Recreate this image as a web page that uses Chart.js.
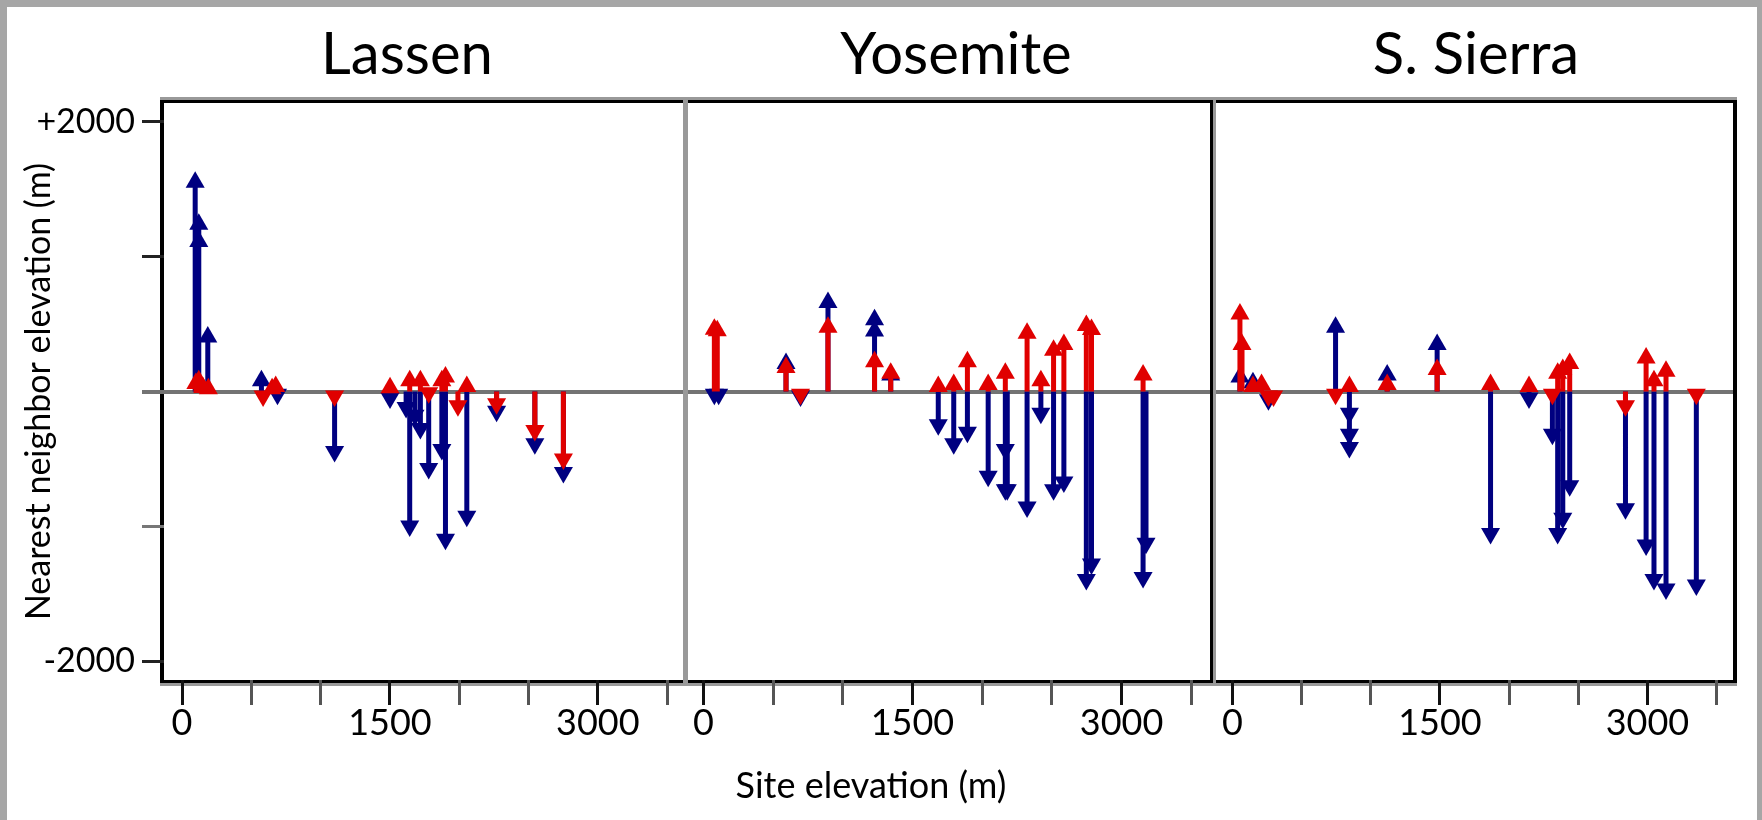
<!DOCTYPE html>
<html>
<head>
<meta charset="utf-8">
<title>Nearest neighbor elevation</title>
<script src="https://cdn.jsdelivr.net/npm/chart.js@4.4.1/dist/chart.umd.min.js"></script>
<style>
  body { margin: 0; background: #fff; }
  #page { position: relative; width: 1762px; height: 820px; overflow: hidden; background: #fff; font-family: Lato, sans-serif; }
  #page canvas { position: absolute; top: 0; }
  #edge { position: absolute; left: 0; top: 0; right: 0; bottom: 0; border-top: 7px solid #a6a6a6; border-left: 7px solid #a6a6a6; border-right: 5px solid #a6a6a6; pointer-events: none; }
  #xtitle { position: absolute; left: 871px; top: 766px; transform: translateX(-50%); font-size: 36px; line-height: 36px; color: #000; white-space: nowrap; }
</style>
</head>
<body>
<div id="page">
  <canvas id="canvas0" width="814" height="820" style="left:0px"></canvas>
  <canvas id="canvas1" width="572" height="820" style="left:670px"></canvas>
  <canvas id="canvas2" width="560" height="820" style="left:1196px"></canvas>
  <div id="xtitle">Site elevation (m)</div>
  <div id="edge"></div>
</div>
<script>
// site elevation (m) and elevation of nearest neighbor relative to the site (m)
var lassenBlueX = [95, 121, 121, 186, 573, 689, 1101, 1501, 1617, 1643, 1681, 1720, 1780, 1875, 1901, 2055, 2270, 2546, 2752];
var lassenBlueY = [1552, 1241, 1113, 405, 80, -20, -445, -48, -119, -997, -176, -275, -572, -430, -1096, -926, -147, -388, -600];
var lassenRedX = [100, 121, 150, 190, 585, 650, 676, 1101, 1501, 1643, 1720, 1780, 1875, 1901, 1991, 2055, 2270, 2546, 2752];
var lassenRedY = [60, 80, 30, 20, -34, 20, 37, -34, 28, 80, 80, -10, 80, 108, -105, 37, -91, -289, -501];

var yosemiteBlueX = [79, 110, 593, 697, 894, 1228, 1228, 1344, 1685, 1796, 1894, 2043, 2166, 2166, 2180, 2322, 2421, 2512, 2586, 2747, 2784, 3154, 3175];
var yosemiteBlueY = [-20, -20, 207, -34, 660, 533, 448, 122, -246, -388, -303, -629, -430, -728, -728, -856, -161, -728, -671, -1394, -1280, -1380, -1125];
var yosemiteRedX = [79, 100, 593, 697, 894, 1228, 1344, 1685, 1796, 1894, 2043, 2166, 2322, 2421, 2512, 2586, 2747, 2784, 3154];
var yosemiteRedY = [462, 450, 178, -20, 476, 221, 136, 37, 51, 221, 51, 136, 433, 79, 306, 348, 490, 460, 122];

var sierraBlueX = [55, 149, 261, 746, 846, 846, 846, 1119, 1480, 1866, 2144, 2313, 2351, 2388, 2438, 2841, 2990, 3047, 3134, 3353];
var sierraBlueY = [108, 65, -62, 476, -161, -317, -416, 122, 348, -1054, -48, -317, -1054, -940, -700, -870, -1139, -1394, -1465, -1436];
var sierraRedX = [55, 70, 149, 211, 261, 298, 746, 846, 1119, 1480, 1866, 2144, 2313, 2351, 2388, 2438, 2841, 2990, 3047, 3134, 3353];
var sierraRedY = [575, 348, 37, 51, -34, -34, -20, 37, 51, 164, 51, 37, -20, 136, 164, 207, -105, 249, 79, 150, -20];

var panelTitles = ['Lassen', 'Yosemite', 'S. Sierra'];
var xTicks = [0, 500, 1000, 1500, 2000, 2500, 3000, 3500];
var xLabels = [0, 1500, 3000];
var yTicks = [-2000, -1000, 0, 1000, 2000];
var yLabels = {'2000': '+2000', '-2000': '-2000'};

var BLUE = '#000080';
var RED = '#e00000';

Chart.defaults.font.family = 'Lato, sans-serif';
Chart.defaults.color = '#000';

function heads(xs, ys) {
  var out = [];
  xs.forEach((x, i) => { out.push({x: x, y: ys[i]}); });
  return out;
}

// each arrow shaft runs from 0 to the value, nulls break the line between arrows
function shafts(xs, ys) {
  var out = [];
  xs.forEach((x, i) => {
    out.push({x: x, y: 0});
    out.push({x: x, y: ys[i]});
    out.push({x: x, y: null});
  });
  return out;
}

// box round the plot area, with the grey shadow lines of the original
var frame = {
  id: 'frame',
  beforeDraw: function(chart, args, o) {
    var a = chart.chartArea, ctx = chart.ctx;
    var l = a.left - (o.left ? o.left[1] : 0);
    var r = a.right + (o.right ? o.right[1] : 0);
    ctx.save();
    ctx.fillStyle = '#999';
    ctx.fillRect(l, a.top - 6, r - l, 3);
    ctx.fillRect(l, a.bottom + 3, r - l, 3);
    ctx.fillStyle = '#000';
    ctx.fillRect(l, a.top - 3, r - l, 3);
    ctx.fillRect(l, a.bottom, r - l, 3);
    if (o.left) { ctx.fillStyle = o.left[0]; ctx.fillRect(a.left - o.left[1], a.top - 3, o.left[1], a.bottom - a.top + 6); }
    if (o.right) { ctx.fillStyle = o.right[0]; ctx.fillRect(a.right, a.top - 3, o.right[1], a.bottom - a.top + 6); }
    ctx.restore();
  }
};

function headSet(xs, ys, color) {
  return {
    data: heads(xs, ys), showLine: false,
    pointStyle: 'triangle', pointRadius: 11, pointHoverRadius: 11, pointBorderWidth: 0,
    pointBackgroundColor: color, pointBorderColor: color,
    pointRotation: function(ctx) { return ctx.raw && ctx.raw.y < 0 ? 180 : 0; }
  };
}

function shaftSet(xs, ys, color) {
  return {
    data: shafts(xs, ys), borderColor: color, borderWidth: 5, pointRadius: 0,
    pointHitRadius: 0, spanGaps: false, tension: 0, borderCapStyle: 'butt'
  };
}

function makePanel(id, n, blueX, blueY, redX, redY, p) {
  var first = (n == 0);
  var yTickColor = {'2000': '#222', '1000': '#222', '0': '#737373', '-1000': '#777', '-2000': '#222'};
  var chart = new Chart(document.getElementById("canvas" + id), {
    type: 'line',
    data: {
      // first dataset is drawn on top: red over blue
      datasets: [
        headSet(redX, redY, RED),
        shaftSet(redX, redY, RED),
        headSet(blueX, blueY, BLUE),
        shaftSet(blueX, blueY, BLUE)
      ]
    },
    options: {
      responsive: false,
      animation: false,
      events: [],
      layout: { autoPadding: false, padding: {left: p.padLeft, right: p.padRight, top: 0, bottom: 0} },
      plugins: {
        legend: {display: false},
        tooltip: {enabled: false},
        title: {
          display: true, text: panelTitles[n], color: '#000',
          font: {size: 58, weight: 'normal', lineHeight: 1.2},
          padding: {top: 20.2, bottom: 13.2}
        },
        frame: {left: p.left, right: p.right}
      },
      scales: {
        x: {
          type: 'linear', min: p.xMin, max: p.xMax,
          afterBuildTicks: function(s) { s.ticks = xTicks.map(v => ({value: v})); },
          afterFit: function(s) { s.height = 140; },
          border: {display: false},
          grid: {
            drawOnChartArea: false, drawTicks: true, tickLength: 25, tickWidth: 3,
            tickColor: function(ctx) { return xLabels.indexOf(ctx.tick.value) >= 0 ? '#111' : '#555'; }
          },
          ticks: {
            padding: 0, autoSkip: false, maxRotation: 0, color: '#000',
            font: {size: 36, lineHeight: 1},
            callback: function(v) { return xLabels.indexOf(v) >= 0 ? String(v) : ''; }
          }
        },
        y: {
          min: -2140, max: 2140,
          afterBuildTicks: function(s) { s.ticks = yTicks.map(v => ({value: v})); },
          afterFit: function(s) { s.width = first ? 164 : 0; },
          border: {display: false},
          grid: {
            drawTicks: first, tickLength: 22,
            color: function(ctx) { return ctx.tick.value === 0 ? '#737373' : 'rgba(0,0,0,0)'; },
            lineWidth: function(ctx) { return ctx.tick.value === 0 ? 4 : 3; },
            tickColor: function(ctx) { return yTickColor[ctx.tick.value]; },
            tickWidth: function(ctx) { return ctx.tick.value === 0 ? 4 : 3; }
          },
          ticks: {
            display: first, padding: 7, color: '#000',
            font: {size: 34, lineHeight: 1},
            callback: function(v) { return yLabels[v] || ''; }
          },
          title: {
            display: first, text: 'Nearest neighbor elevation (m)', color: '#000',
            font: {size: 34, lineHeight: 1.2}, padding: {top: 18.6, bottom: 0}
          }
        },
        // empty strip on the right, only there so the title sits where the original has it
        yr: {
          position: 'right', display: true,
          afterFit: function(s) { s.width = p.rightGap; },
          border: {display: false},
          grid: {display: false},
          ticks: {display: false}
        }
      }
    },
    plugins: [frame]
  });
  chart.myId = id;
  return chart;
}

makePanel(0, 0, lassenBlueX, lassenBlueY, lassenRedX, lassenRedY,
  {xMin: -130, xMax: 3615, padLeft: 0, padRight: 0, rightGap: 131, left: ['#000', 4], right: ['#999', 5]});
makePanel(1, 1, yosemiteBlueX, yosemiteBlueY, yosemiteRedX, yosemiteRedY,
  {xMin: -110, xMax: 3634, padLeft: 18, padRight: 18, rightGap: 14, left: null, right: ['#000', 3]});
makePanel(2, 2, sierraBlueX, sierraBlueY, sierraRedX, sierraRedY,
  {xMin: -118, xMax: 3618, padLeft: 20, padRight: 20, rightGap: 3, left: ['#999', 3], right: ['#000', 4]});
</script>
</body>
</html>
